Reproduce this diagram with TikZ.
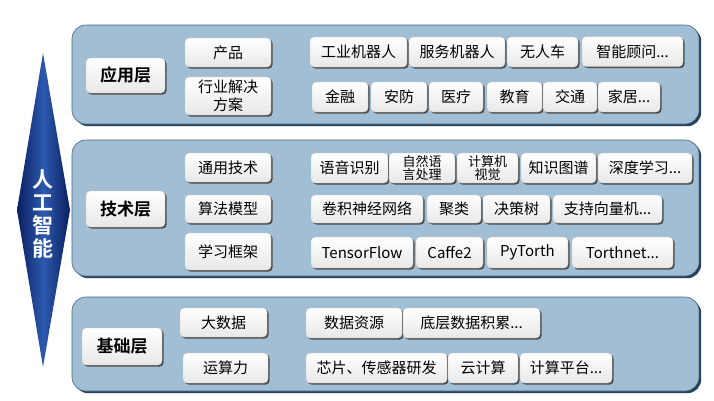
\documentclass[tikz,border=0pt]{standalone}
\usepackage{fontspec}
\setmainfont{Noto Sans CJK SC}[BoldFont={Noto Sans CJK SC Bold}]
\usepackage{tikz}
\usetikzlibrary{shapes,shadows}
\definecolor{panelblue}{RGB}{161,190,212}
\definecolor{paneledge}{RGB}{70,100,130}
\definecolor{paneldark}{RGB}{38,64,92}
\definecolor{spikedark}{RGB}{10,30,95}
\definecolor{spikelight}{RGB}{45,90,175}

\begin{document}
\begin{tikzpicture}[x=1pt,y=-1pt,
        panel/.style={rectangle,rounded corners=14pt,draw=paneledge,line width=0.6pt,fill=panelblue,
            drop shadow={shadow xshift=2.2pt,shadow yshift=-2.2pt,fill=paneldark,opacity=1}},
        cell/.style={rectangle,rounded corners=4pt,draw=gray!45,top color=white,bottom color=gray!18,
            drop shadow={shadow xshift=1.6pt,shadow yshift=-1.6pt,fill=black!70,opacity=1},
            inner sep=0pt,minimum height=29pt,font=\fontsize{15}{18}\selectfont},
        layer/.style={cell,font=\fontsize{17}{19}\selectfont\bfseries},
        twoline/.style={cell,align=center,font=\fontsize{13}{13}\selectfont}]
        % 画布
        \fill[white] (0,0) rectangle (714,400);
        \useasboundingbox (0,0) rectangle (714,400);

        % 左侧人工智能
        \shade[left color=spikedark,right color=spikedark,middle color=spikelight]
            (43,53) -- (70,210) -- (43,367) -- (17,210) -- cycle;
        \node[font=\fontsize{21}{23}\selectfont\bfseries,text=white,align=center] (ai) at (43,214) {人\\工\\智\\能};

        % 三个层的底板
        \node[panel,minimum width=627pt,minimum height=99pt] (applayer) at (385.5,74.5) {};
        \node[panel,minimum width=627pt,minimum height=136pt] (techlayer) at (385.5,208) {};
        \node[panel,minimum width=627pt,minimum height=94pt] (baselayer) at (385.5,344) {};

        % 应用层
        \node[layer,minimum width=79pt,minimum height=35pt] (app) at (125.5,75.5) {应用层};
        \node[cell,minimum width=86pt] (prod) at (228,52.5) {产品};
        \node[cell,align=center,minimum width=86pt,minimum height=38pt,font=\fontsize{15}{18}\selectfont] (solution) at (228,96) {行业解决\\方案};

        \node[cell,minimum width=97pt,minimum height=30pt] (indrobot) at (358.5,52) {工业机器人};
        \node[cell,minimum width=96pt,minimum height=30pt] (servrobot) at (457,52) {服务机器人};
        \node[cell,minimum width=71pt,minimum height=30pt] (car) at (542.5,52) {无人车};
        \node[cell,minimum width=101pt,minimum height=30pt] (advisor) at (632.5,51.5) {智能顾问...};

        \node[cell,minimum width=56pt,minimum height=30pt] (finance) at (340,97) {金融};
        \node[cell,minimum width=56pt,minimum height=30pt] (security) at (399,97) {安防};
        \node[cell,minimum width=54pt,minimum height=30pt] (medical) at (456,97) {医疗};
        \node[cell,minimum width=55pt,minimum height=30pt] (edu) at (514.5,97) {教育};
        \node[cell,minimum width=54pt,minimum height=30pt] (traffic) at (570,97) {交通};
        \node[cell,minimum width=62pt,minimum height=30pt] (home) at (629,97) {家居...};

        % 技术层
        \node[layer,minimum width=79pt,minimum height=36pt] (tech) at (125.5,209) {技术层};
        \node[cell,minimum width=86pt] (general) at (228,167.5) {通用技术};
        \node[cell,minimum width=86pt,minimum height=28pt] (algo) at (228,209) {算法模型};
        \node[cell,minimum width=86pt,minimum height=37pt] (frame) at (228,251.5) {学习框架};

        \node[cell,minimum width=77pt,minimum height=30pt] (speech) at (349.5,168) {语音识别};
        \node[twoline,minimum width=66pt,minimum height=30pt] (nlp) at (422,168) {自然语\\言处理};
        \node[twoline,minimum width=61pt,minimum height=30pt] (vision) at (487.5,168) {计算机\\视觉};
        \node[cell,minimum width=75pt,minimum height=30pt] (graph) at (558.5,168) {知识图谱};
        \node[cell,minimum width=94pt,minimum height=30pt] (deep) at (645,168) {深度学习...};

        \node[cell,minimum width=112pt,minimum height=28pt] (cnn) at (367,209) {卷积神经网络};
        \node[cell,minimum width=54pt,minimum height=28pt] (cluster) at (454,209) {聚类};
        \node[cell,minimum width=67pt,minimum height=28pt] (dtree) at (516.5,209) {决策树};
        \node[cell,minimum width=109pt,minimum height=28pt] (svm) at (607.5,209) {支持向量机...};

        \node[cell,minimum width=102pt,minimum height=31pt] (tf) at (362,252.5) {TensorFlow};
        \node[cell,minimum width=67pt,minimum height=31pt] (caffe) at (449.5,252.5) {Caffe2};
        \node[cell,minimum width=81pt,minimum height=31pt] (pytorth) at (527.5,252.5) {PyTorth};
        \node[cell,minimum width=101pt,minimum height=31pt] (torthnet) at (622.5,252.5) {Torthnet...};

        % 基础层
        \node[layer,minimum width=80pt,minimum height=37pt] (base) at (122,346.5) {基础层};
        \node[cell,minimum width=87pt] (bigdata) at (223.5,322.5) {大数据};
        \node[cell,minimum width=85pt,minimum height=30pt] (power) at (225.5,368) {运算力};

        \node[cell,minimum width=96pt,minimum height=30pt] (datares) at (354,323) {数据资源};
        \node[cell,minimum width=137pt,minimum height=30pt] (dataacc) at (471.5,323) {底层数据积累...};
        \node[cell,minimum width=141pt,minimum height=30pt] (chip) at (376.5,368) {芯片、传感器研发};
        \node[cell,minimum width=70pt,minimum height=30pt] (cloud) at (483,368) {云计算};
        \node[cell,minimum width=92pt,minimum height=30pt] (platform) at (566,368) {计算平台...};
    \end{tikzpicture}
\end{document}
